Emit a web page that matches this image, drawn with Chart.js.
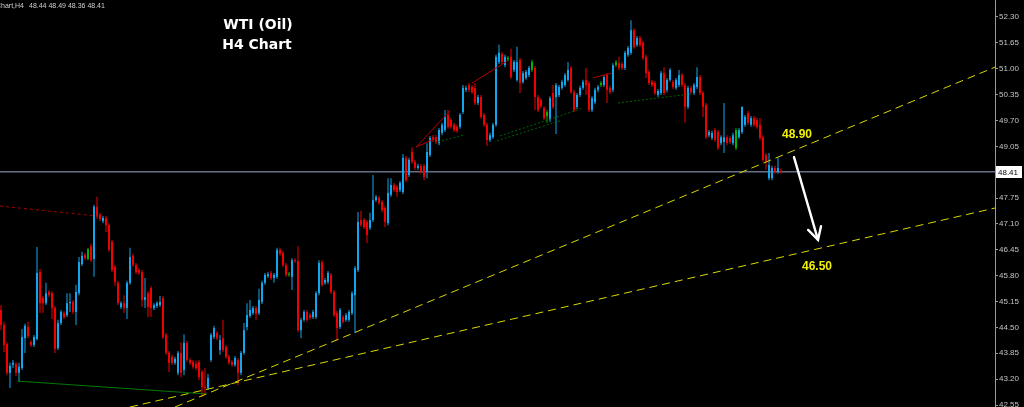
<!DOCTYPE html>
<html><head><meta charset="utf-8">
<script src="https://cdn.jsdelivr.net/npm/chart.js@4.4.0/dist/chart.umd.min.js"></script>
<style>html,body{margin:0;padding:0;background:#000;overflow:hidden}#wrap{width:1024px;height:407px}</style>
</head><body><div id="wrap"><canvas id="c" width="1024" height="407" style="width:1024px;height:407px"></canvas></div>
<script>
// ---------- data (H4 candles, WTI) ----------
const opens = [
44.94,44.56,44.08,43.36,43.56,43.58,43.36,43.48,44.23,44.51,
44.13,44.06,44.21,45.89,45.24,45.11,45.39,45.36,44.99,43.98,
44.61,44.86,44.81,45.11,45.14,44.89,45.36,46.09,46.32,46.22,
46.54,46.22,47.53,47.33,47.17,47.25,47.07,46.65,46.02,45.62,
45.01,45.11,44.99,45.62,46.30,46.07,45.94,45.89,45.19,45.36,
45.49,44.99,45.04,45.06,45.24,44.31,43.86,43.76,43.61,43.36,
43.86,43.43,44.11,43.68,43.63,43.58,43.63,43.38,43.00,42.98,
43.68,44.26,44.36,43.93,44.23,44.01,43.76,43.63,43.56,43.68,
43.36,43.86,44.51,44.79,44.86,44.99,44.86,45.14,45.62,45.79,
45.87,45.74,45.77,46.45,46.37,46.07,45.82,45.77,46.19,46.17,
44.43,44.69,44.89,44.81,44.76,44.76,45.36,46.14,45.62,45.64,
45.82,45.39,44.86,44.51,44.76,44.69,44.69,44.86,45.31,45.94,
47.20,47.20,47.15,47.00,47.20,47.70,47.75,47.65,47.50,47.12,
47.83,48.08,48.03,47.95,47.90,48.76,48.33,48.91,48.66,48.51,
48.56,48.56,48.41,48.83,49.28,49.28,49.13,49.39,49.46,49.84,
49.71,49.59,49.54,49.54,49.91,50.47,50.59,50.54,50.52,50.14,
50.29,49.84,49.59,49.21,49.28,49.59,51.17,51.37,51.09,51.24,
51.30,50.97,50.72,51.22,50.67,50.77,50.84,50.97,51.02,50.29,
50.21,50.01,49.81,49.71,50.39,50.29,50.34,50.52,50.59,50.72,
51.02,50.41,50.04,50.34,50.52,50.72,50.64,49.96,50.16,50.47,
50.59,50.59,50.84,50.52,50.47,51.09,51.14,51.12,51.02,51.35,
51.40,51.97,51.60,51.77,51.65,51.30,50.92,50.67,50.64,50.34,
50.39,50.89,50.47,50.72,50.67,50.52,50.59,50.84,50.59,50.04,
50.52,50.39,50.54,50.79,50.39,50.09,49.33,49.26,49.46,49.41,
49.13,49.16,49.28,49.26,49.13,49.01,49.28,49.41,49.59,49.89,
49.59,49.76,49.71,49.59,49.28,48.83,48.25,48.25,48.51,48.41,
48.44];
const highs = [
45.06,44.64,44.13,43.61,43.68,43.63,43.61,44.46,44.59,44.64,
44.18,44.31,46.52,45.97,45.29,45.62,45.44,45.41,45.04,44.69,
44.94,44.91,45.36,45.36,45.19,45.57,46.27,46.40,46.37,46.50,
46.60,47.58,47.78,47.38,47.30,47.30,47.12,46.70,46.07,45.67,
45.16,45.31,45.67,46.50,46.35,46.12,45.99,45.94,45.74,45.41,
45.54,45.11,45.16,45.29,45.29,44.36,43.91,43.81,43.76,43.91,
44.13,44.33,44.16,43.73,43.68,43.66,43.68,43.43,43.48,43.33,
44.36,44.54,44.41,44.31,44.69,44.06,43.81,43.68,43.78,43.73,
43.91,44.61,45.11,45.19,45.04,45.04,45.47,45.67,45.87,45.89,
45.92,45.87,46.50,46.50,46.42,46.12,45.89,46.24,46.24,46.54,
44.74,44.94,44.94,44.86,44.94,45.41,46.19,46.19,45.74,45.92,
45.87,45.44,44.91,44.99,44.81,44.86,44.94,45.41,46.04,47.40,
47.43,47.25,47.20,47.38,48.33,47.83,47.80,47.70,47.55,48.25,
48.25,48.13,48.08,48.18,48.86,48.81,48.76,49.03,48.71,48.61,
48.61,48.61,49.13,49.31,49.33,49.33,49.51,49.64,49.96,49.96,
49.76,49.64,49.59,49.89,50.59,50.57,50.64,50.59,50.64,50.34,
50.34,49.89,49.64,49.39,49.64,51.35,51.60,51.42,51.35,51.32,
51.50,51.22,51.55,51.27,50.94,50.97,51.07,51.22,51.07,50.34,
50.26,50.06,49.96,50.31,50.59,50.64,50.59,50.72,50.89,51.17,
51.07,50.47,50.39,50.57,50.72,51.02,50.69,50.31,50.52,50.59,
50.69,50.84,50.89,50.57,51.14,51.22,51.30,51.17,51.45,51.57,
52.22,52.02,51.82,51.82,51.70,51.35,50.97,50.72,50.69,50.49,
50.94,51.04,50.77,51.02,50.72,50.77,50.97,50.89,50.64,50.57,
50.57,50.64,51.04,50.84,50.44,50.14,49.46,49.44,49.51,49.46,
49.33,50.14,49.33,49.31,49.39,49.51,49.51,50.06,49.84,49.94,
49.81,49.81,49.76,49.76,49.33,48.88,48.88,48.56,48.56,48.76,
48.49];
const lows = [
44.43,43.88,43.30,42.98,43.48,43.28,43.13,43.43,43.86,44.23,
44.01,44.01,44.18,44.86,44.86,45.06,45.26,44.71,43.86,43.93,
44.56,44.71,44.76,44.89,44.84,44.56,45.31,46.04,46.19,46.19,
46.14,45.77,47.22,47.17,47.12,46.90,46.40,45.89,45.54,45.06,
44.96,44.86,44.71,45.57,46.02,45.84,45.82,45.01,44.99,44.76,
44.76,44.94,44.99,45.01,44.21,43.81,43.38,43.56,43.56,43.30,
43.25,43.30,43.63,43.56,43.46,43.43,43.18,42.75,42.80,42.93,
43.63,44.21,44.18,43.81,43.88,43.71,43.56,43.51,43.51,43.05,
43.30,43.81,44.43,44.74,44.81,44.69,44.81,45.09,45.57,45.74,
45.69,45.62,45.72,46.30,46.02,45.77,45.77,45.44,46.12,44.38,
44.23,44.64,44.64,44.69,44.71,44.71,45.31,45.52,45.57,45.59,
45.34,44.76,44.18,44.46,44.59,44.64,44.64,44.81,44.36,45.89,
47.02,46.97,46.62,46.95,47.15,47.65,47.58,47.40,47.02,47.07,
47.78,47.90,47.78,47.90,47.85,48.15,48.28,48.61,48.46,48.46,
48.36,48.20,48.25,48.78,49.16,49.11,49.08,49.33,49.41,49.49,
49.49,49.41,49.39,49.49,49.86,50.41,50.41,50.37,50.09,50.09,
49.74,49.54,49.06,49.16,49.24,49.54,51.12,51.12,51.04,51.19,
50.74,50.92,50.67,50.39,50.62,50.72,50.79,50.92,49.96,49.91,
50.01,49.71,49.64,49.66,49.99,49.36,50.29,50.47,50.54,50.67,
50.37,49.91,49.99,50.29,50.47,50.34,49.91,49.91,50.11,50.41,
50.54,50.54,50.14,50.37,50.41,51.04,50.97,50.97,50.97,51.30,
51.35,51.50,51.55,51.55,51.22,50.77,50.59,50.54,50.34,50.29,
50.34,50.34,50.41,50.67,50.49,50.47,50.54,50.54,49.64,49.99,
50.37,50.34,50.49,50.34,49.79,49.24,49.28,49.21,49.16,48.96,
49.08,48.88,49.08,49.11,49.08,48.96,49.24,49.36,49.54,49.59,
49.54,49.54,49.49,49.21,48.66,48.46,48.20,48.20,48.36,48.36,
48.36];
const closes = [
44.56,44.06,43.36,43.53,43.61,43.36,43.51,44.26,44.54,44.28,
44.06,44.26,45.87,45.11,45.11,45.36,45.31,44.99,43.96,44.61,
44.89,44.76,45.11,45.14,44.89,45.39,46.14,46.30,46.24,46.47,
46.19,47.53,47.28,47.22,47.25,47.07,46.45,45.94,45.64,45.11,
45.11,44.99,45.62,46.27,46.07,45.89,45.87,45.19,45.26,45.01,
44.99,45.06,45.11,45.14,44.26,43.86,43.61,43.61,43.71,43.86,
43.36,44.11,43.68,43.61,43.51,43.48,43.25,43.00,42.98,43.23,
44.31,44.48,44.23,44.18,43.93,43.76,43.61,43.56,43.73,43.36,
43.86,44.43,44.81,44.94,44.99,44.84,45.19,45.62,45.82,45.84,
45.74,45.82,46.45,46.35,46.07,45.82,45.84,46.19,46.17,44.43,
44.69,44.89,44.69,44.74,44.89,45.36,46.12,45.57,45.69,45.87,
45.39,44.81,44.48,44.94,44.64,44.81,44.89,45.36,45.99,47.15,
47.07,47.02,46.82,47.20,47.70,47.78,47.63,47.45,47.15,47.88,
48.08,47.95,47.90,48.13,48.76,48.20,48.71,48.66,48.51,48.56,
48.41,48.28,48.91,49.26,49.21,49.16,49.46,49.59,49.79,49.54,
49.54,49.46,49.44,49.84,50.52,50.52,50.47,50.41,50.14,50.29,
49.79,49.59,49.21,49.33,49.59,51.30,51.40,51.17,51.30,51.27,
50.79,51.17,51.17,50.64,50.89,50.92,51.02,51.17,50.29,49.96,
50.06,49.76,49.91,50.26,50.04,50.59,50.54,50.67,50.84,50.97,
50.41,49.96,50.34,50.52,50.67,50.59,49.96,50.26,50.47,50.54,
50.64,50.79,50.47,50.41,51.09,51.17,51.02,51.02,51.40,51.52,
51.97,51.55,51.77,51.60,51.27,50.89,50.64,50.59,50.39,50.44,
50.89,50.39,50.72,50.97,50.54,50.72,50.84,50.59,50.04,50.52,
50.41,50.59,50.79,50.39,50.04,49.28,49.41,49.39,49.21,49.01,
49.28,49.28,49.13,49.16,49.33,49.46,49.46,50.04,49.79,49.64,
49.76,49.59,49.54,49.26,48.71,48.66,48.58,48.51,48.41,48.51,
48.41];
const greenBars = [29, 96, 169, 177, 182, 200, 205, 245];

const yTicks = [52.30, 51.65, 51.00, 50.35, 49.70, 49.05, 48.40, 47.75, 47.10, 46.45, 45.80, 45.15, 44.50, 43.85, 43.20, 42.55];
const yRange = [42.50, 52.727];
const xRange = [-1/3, 331.33];

// drawn objects, in [bar index, price]
const trendUpper = [[58, 42.50], [331.33, 51.04]];
const trendLower = [[43, 42.50], [331.33, 47.50]];
const greenBase = [[5.67, 43.15], [68, 42.83]];
const redDotted = [[-0.33, 47.55], [32, 47.30]];
const redLines = [
  [[138.33, 49.03], [149.67, 49.94]],
  [[138.33, 49.03], [145.67, 49.28]],
  [[157, 50.64], [168.67, 51.19]],
  [[197.33, 50.77], [203.67, 50.89]]
];
const greenDotted = [
  [[145.67, 49.16], [154, 49.33]],
  [[166.33, 49.31], [194, 50.01]],
  [[165.33, 49.19], [186.33, 49.69]],
  [[205.67, 50.14], [230.33, 50.37]]
];
const arrowPath = [[264.33, 48.78], [272.33, 46.70]];
const levelLabels = ['48.90', '46.50'];
const levelLabelAt = [[265.33, 49.35], [272, 46.03]];
const titleLines = ['WTI (Oil)', 'H4 Chart'];
const symbolTag = 'Chart,H4';

// ---------- build ----------
const last = closes.length - 1;
const BLUE = '#12a6ee', RED = '#f00000', GREEN = '#00b400';
const barColors = opens.map((o, i) => greenBars.includes(i) ? GREEN : (closes[i] >= o ? BLUE : RED));

const wickData = opens.map((_, i) => ({ x: i, y: [lows[i], highs[i]] }));
const bodyData = opens.map((o, i) => ({ x: i, y: [o, closes[i]] }));

function seg(points, color, width, dash, order) {
  return { type: 'line', data: points.map(([x, y]) => ({ x, y })), borderColor: color, borderWidth: width,
    borderDash: dash, pointRadius: 0, fill: false, tension: 0, order };
}

const datasets = [
  { type: 'bar', data: wickData, backgroundColor: barColors, maxBarThickness: 1, grouped: false,
    borderWidth: 0, borderSkipped: false, inflateAmount: 0, order: 3 },
  { type: 'bar', data: bodyData, backgroundColor: barColors, maxBarThickness: 2, grouped: false,
    borderWidth: 0, borderSkipped: false, inflateAmount: 0, minBarLength: 1, order: 2 },
  seg([[xRange[0], closes[last]], [xRange[1], closes[last]]], '#657088', 1.5, [], 4),
  seg(trendUpper, '#d8d800', 1, [8, 5], 1),
  seg(trendLower, '#d8d800', 1, [8, 5], 1),
  seg(greenBase, '#007a00', 1, [], 1),
  seg(redDotted, '#a00000', 1, [3, 3], 1),
];
redLines.forEach(p => datasets.push(seg(p, '#b00000', 1, [], 1)));
greenDotted.forEach(p => datasets.push(seg(p, '#006400', 1, [2, 2], 1)));

const overlay = {
  id: 'overlay',
  afterDatasetsDraw(chart) {
    const { ctx, scales: { x, y } } = chart;
    ctx.save();
    // arrow
    const [t0, t1] = arrowPath.map(([a, b]) => [x.getPixelForValue(a), y.getPixelForValue(b)]);
    ctx.strokeStyle = '#ffffff'; ctx.lineWidth = 2.4; ctx.lineCap = 'round'; ctx.setLineDash([]);
    ctx.beginPath(); ctx.moveTo(t0[0], t0[1]); ctx.lineTo(t1[0], t1[1]); ctx.stroke();
    const ang = Math.atan2(t0[1] - t1[1], t0[0] - t1[0]);
    const hl = 14;
    ctx.beginPath();
    ctx.moveTo(t1[0] + hl * Math.cos(ang - 0.5), t1[1] + hl * Math.sin(ang - 0.5));
    ctx.lineTo(t1[0], t1[1]);
    ctx.lineTo(t1[0] + hl * Math.cos(ang + 0.5), t1[1] + hl * Math.sin(ang + 0.5));
    ctx.stroke();
    // level labels
    ctx.fillStyle = '#f0f000'; ctx.font = 'bold 12px "Liberation Sans", Arial, sans-serif';
    ctx.textAlign = 'center'; ctx.textBaseline = 'middle';
    levelLabels.forEach((t, i) => ctx.fillText(t, x.getPixelForValue(levelLabelAt[i][0]), y.getPixelForValue(levelLabelAt[i][1])));
    // titles
    ctx.fillStyle = '#ffffff'; ctx.font = 'bold 14px "DejaVu Sans", sans-serif';
    ctx.fillText(titleLines[0], 258, 25);
    ctx.fillText(titleLines[1], 257, 45);
    // symbol header
    ctx.font = '7px "Liberation Sans", Arial, sans-serif'; ctx.fillStyle = '#cfcfcf';
    ctx.textAlign = 'right'; ctx.fillText(symbolTag, 24, 6);
    ctx.textAlign = 'left';
    ctx.fillText([opens[last], highs[last], lows[last], closes[last]].map(v => v.toFixed(2)).join(' '), 29, 6);
    ctx.restore();
  },
  afterDraw(chart) {
    const { ctx, scales: { y }, chartArea } = chart;
    const py = Math.round(y.getPixelForValue(closes[last]));
    ctx.save();
    ctx.fillStyle = '#ffffff';
    ctx.fillRect(chartArea.right + 1, py - 6, 26, 12);
    ctx.fillStyle = '#000000'; ctx.font = '8px "Liberation Sans", Arial, sans-serif';
    ctx.textAlign = 'left'; ctx.textBaseline = 'middle';
    ctx.fillText(closes[last].toFixed(2), chartArea.right + 3, py + 0.5);
    ctx.restore();
  }
};

new Chart(document.getElementById('c'), {
  type: 'bar',
  data: { datasets },
  options: {
    responsive: false, animation: false, devicePixelRatio: 1, events: [],
    layout: { padding: 0 },
    plugins: { legend: { display: false }, tooltip: { enabled: false }, title: { display: false } },
    scales: {
      x: { type: 'linear', min: xRange[0], max: xRange[1], offset: false, display: false },
      y: {
        type: 'linear', position: 'right', min: yRange[0], max: yRange[1],
        grid: { display: true, drawOnChartArea: false, drawTicks: true, tickLength: 3, color: '#9a9a9a' },
        border: { display: true, color: '#9a9a9a' },
        ticks: { color: '#c4c4c4', font: { family: 'Liberation Sans', size: 8 }, padding: 1, autoSkip: false,
          callback: v => Number(v).toFixed(2) },
        afterBuildTicks: s => { s.ticks = yTicks.map(v => ({ value: v })); },
        afterFit: s => { s.width = 29; s.paddingTop = 0; s.paddingBottom = 0; }
      }
    }
  },
  plugins: [overlay, { id: 'bg', beforeDraw(c) { c.ctx.save(); c.ctx.fillStyle = '#000'; c.ctx.fillRect(0, 0, c.width, c.height); c.ctx.restore(); } }]
});
</script></body></html>
